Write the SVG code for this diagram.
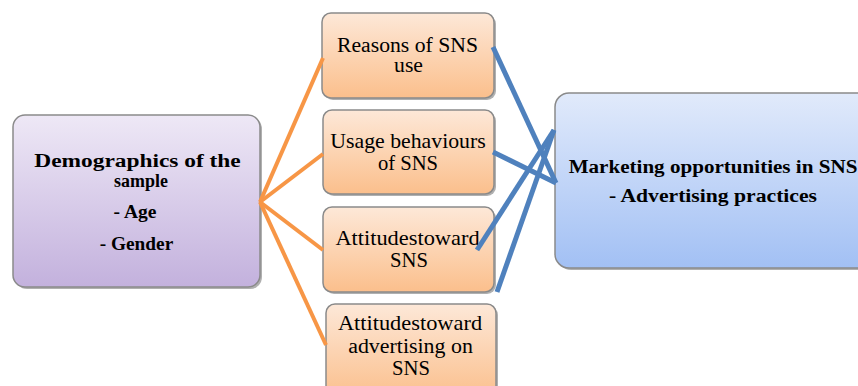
<svg xmlns="http://www.w3.org/2000/svg" width="858" height="386" viewBox="0 0 858 386">
  <defs>
    <linearGradient id="gPurple" x1="0" y1="0" x2="0" y2="1">
      <stop offset="0" stop-color="#eee8f6"/>
      <stop offset="1" stop-color="#c3b1dd"/>
    </linearGradient>
    <linearGradient id="gOrange" x1="0" y1="0" x2="0" y2="1">
      <stop offset="0" stop-color="#fde8d8"/>
      <stop offset="1" stop-color="#fbbf8c"/>
    </linearGradient>
    <linearGradient id="gBlue" x1="0" y1="0" x2="0" y2="1">
      <stop offset="0" stop-color="#e1eafb"/>
      <stop offset="1" stop-color="#a2c0f4"/>
    </linearGradient>
  </defs>
  <style>
    .shadow { fill: #6f6f6f; opacity: 0.55; }
    .box { stroke: #8a8a8a; stroke-width: 1.5; }
    .purple { fill: url(#gPurple); }
    .orange { fill: url(#gOrange); }
    .blue { fill: url(#gBlue); }
    .lbl { fill: #000; text-anchor: middle; font-family: 'Liberation Serif', 'Times New Roman', serif; }
    .bold { font-weight: bold; font-size: 19px; }
    .big { font-size: 19.5px; }
    .reg { font-size: 20px; }
    .orangeLine { stroke: #f79646; stroke-width: 4; fill: none; }
    .blueLine { stroke: #4f81bd; stroke-width: 5; fill: none; }
  </style>

  <rect width="858" height="386" fill="#ffffff"/>

  <!-- Left node: demographics -->
  <g id="demographics">
    <rect class="shadow" x="15" y="117" width="247" height="172" rx="12"/>
    <rect class="box purple" x="13" y="115" width="247" height="172" rx="12"/>
    <text class="lbl bold big" transform="translate(137.5 167) scale(1.2 1)">Demographics of the</text>
    <text class="lbl bold big" transform="translate(141 187) scale(0.92 1)">sample</text>
    <text class="lbl bold big" transform="translate(135 218)">- Age</text>
    <text class="lbl bold big" transform="translate(136.5 250) scale(0.99 1)">- Gender</text>
  </g>

  <!-- Middle nodes -->
  <g id="reasons">
    <rect class="shadow" x="324" y="15" width="172" height="85" rx="9"/>
    <rect class="box orange" x="322" y="13" width="172" height="85" rx="9"/>
    <text class="lbl reg" transform="translate(407.5 52) scale(1.085 1)">Reasons of SNS</text>
    <text class="lbl reg" transform="translate(408.5 72) scale(1.085 1)">use</text>
  </g>

  <g id="usage">
    <rect class="shadow" x="325" y="112" width="171" height="84" rx="9"/>
    <rect class="box orange" x="323" y="110" width="171" height="84" rx="9"/>
    <text class="lbl reg" transform="translate(408 148) scale(1.09 1)">Usage behaviours</text>
    <text class="lbl reg" transform="translate(408 170) scale(1.03 1)">of SNS</text>
  </g>

  <g id="attitudes-sns">
    <rect class="shadow" x="325" y="209" width="171" height="85" rx="9"/>
    <rect class="box orange" x="323" y="207" width="171" height="85" rx="9"/>
    <text class="lbl reg" transform="translate(407.5 245) scale(1.12 1)">Attitudestoward</text>
    <text class="lbl reg" transform="translate(409 267) scale(1.035 1)">SNS</text>
  </g>

  <g id="attitudes-advertising">
    <rect class="shadow" x="328" y="306" width="170" height="95" rx="9"/>
    <rect class="box orange" x="326" y="304" width="170" height="95" rx="9"/>
    <text class="lbl reg" transform="translate(410 330) scale(1.12 1)">Attitudestoward</text>
    <text class="lbl reg" transform="translate(410.5 353) scale(1.095 1)">advertising on</text>
    <text class="lbl reg" transform="translate(411 375) scale(1.035 1)">SNS</text>
  </g>

  <!-- Right node: marketing opportunities -->
  <g id="marketing">
    <rect class="shadow" x="557" y="95" width="316" height="175" rx="14"/>
    <rect class="box blue" x="555" y="93" width="316" height="175" rx="14"/>
    <text class="lbl bold" transform="translate(713 173) scale(1.11 1)">Marketing opportunities in SNS</text>
    <text class="lbl bold" transform="translate(713 202) scale(1.14 1)">- Advertising practices</text>
  </g>

  <!-- Connectors -->
  <g id="connectors">
    <line class="orangeLine" x1="260" y1="202" x2="323" y2="58"/>
    <line class="orangeLine" x1="260" y1="202" x2="323" y2="154"/>
    <line class="orangeLine" x1="260" y1="202" x2="323" y2="250"/>
    <line class="orangeLine" x1="260" y1="202" x2="326" y2="345"/>

    <line class="blueLine" x1="493" y1="47" x2="556" y2="183"/>
    <line class="blueLine" x1="493" y1="152" x2="556" y2="183"/>
    <line class="blueLine" x1="477" y1="250" x2="554" y2="130"/>
    <line class="blueLine" x1="497" y1="292" x2="554" y2="130"/>
  </g>
</svg>
